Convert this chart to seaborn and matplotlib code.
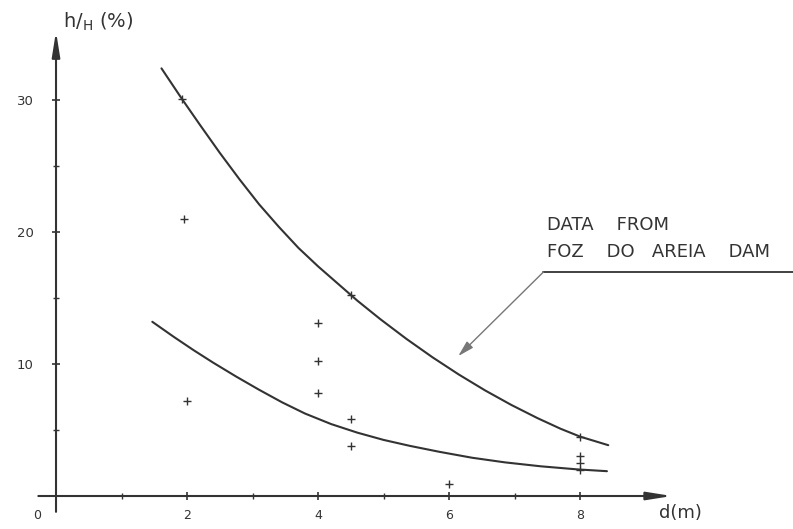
import numpy as np
import pandas as pd
import matplotlib
matplotlib.use("Agg")
import matplotlib.pyplot as plt
import seaborn as sns

# -----------------------------
# Data
# -----------------------------

# measured points (d in m, h/H in %)
point_d = [1.93, 1.95, 2.0, 4.0, 4.0, 4.0, 4.5, 4.5, 4.5, 6.0, 8.0, 8.0, 8.0, 8.0]
point_h = [30.1, 21.0, 7.2, 13.1, 10.2, 7.8, 15.2, 5.8, 3.8, 0.9, 4.5, 3.0, 2.5, 2.0]

# upper envelope curve
upper_d = [1.61, 1.92, 2.20, 2.50, 2.80, 3.10, 3.40, 3.70, 4.00, 4.30, 4.60,
           4.95, 5.35, 5.75, 6.15, 6.55, 6.95, 7.35, 7.70, 8.00, 8.43]
upper_h = [32.4, 30.1, 28.1, 26.0, 24.0, 22.1, 20.4, 18.8, 17.4, 16.1, 14.8,
           13.4, 11.9, 10.5, 9.2, 8.0, 6.9, 5.9, 5.1, 4.5, 3.85]

# lower envelope curve
lower_d = [1.47, 1.80, 2.10, 2.40, 2.75, 3.10, 3.45, 3.80, 4.20, 4.60, 5.00,
           5.40, 5.85, 6.35, 6.85, 7.40, 7.95, 8.41]
lower_h = [13.2, 12.05, 11.05, 10.1, 9.05, 8.05, 7.1, 6.25, 5.45, 4.8, 4.25,
           3.8, 3.35, 2.9, 2.55, 2.25, 2.02, 1.88]

x_major = [2, 4, 6, 8]
x_minor = [1, 3, 5, 7]
y_major = [10, 20, 30]
y_minor = [5, 15, 25]

note_lines = ["DATA    FROM", "FOZ    DO   AREIA    DAM"]

points = pd.DataFrame({"d": point_d, "h": point_h})
upper = pd.DataFrame({"d": upper_d, "h": upper_h})
lower = pd.DataFrame({"d": lower_d, "h": lower_h})

# -----------------------------
# Style
# -----------------------------

sns.set_style("white")
plt.rcParams["font.family"] = ["DejaVu Sans"]
plt.rcParams["mathtext.fontset"] = "dejavusans"

ink = "#333333"

fig = plt.figure(figsize=(7.93, 5.29), dpi=100)
ax = fig.add_axes([0, 0, 1, 1])
ax.set_xlim(-0.855, 11.25)
ax.set_ylim(-2.5, 37.58)

# -----------------------------
# Curves and points
# -----------------------------

sns.lineplot(data=upper, x="d", y="h", sort=False, color=ink, lw=1.5, ax=ax)
sns.lineplot(data=lower, x="d", y="h", sort=False, color=ink, lw=1.5, ax=ax)
sns.scatterplot(data=points, x="d", y="h", marker="+", s=40, color=ink,
                linewidth=1.0, ax=ax, zorder=5)

# -----------------------------
# Axes drawn as arrows through the origin
# -----------------------------

for side in ["top", "right"]:
    ax.spines[side].set_visible(False)
for side in ["left", "bottom"]:
    ax.spines[side].set_position(("data", 0))
    ax.spines[side].set_color("none")

arrow = dict(arrowstyle="-|>,head_length=1.0,head_width=0.16", lw=1.5,
             color=ink, mutation_scale=15, shrinkA=0, shrinkB=0)
ax.annotate("", xy=(9.4, 0), xytext=(-0.27, 0), arrowprops=arrow)
ax.annotate("", xy=(0, 35.2), xytext=(0, -1.2), arrowprops=arrow)

ax.set_xticks(x_major)
ax.set_xticks(x_minor, minor=True)
ax.set_yticks(y_major)
ax.set_yticks(y_minor, minor=True)
ax.set_xticklabels([str(v) for v in x_major])
ax.set_yticklabels([str(v) for v in y_major])

ax.tick_params(which="both", bottom=True, left=True, top=False, right=False)
ax.tick_params(which="major", direction="inout", length=6, width=1.2,
               color=ink, labelcolor=ink)
ax.tick_params(which="minor", direction="inout", length=4, width=1.0, color=ink)
ax.tick_params(axis="x", which="major", pad=6, labelsize=9)
ax.tick_params(axis="y", which="major", pad=13, labelsize=9.5)

ax.set_xlabel("")
ax.set_ylabel("")

ax.text(-0.29, -1.44, "0", ha="center", va="center", fontsize=9, color=ink)
ax.text(9.53, -1.3, "d(m)", ha="center", va="center", fontsize=13, color=ink)
ax.text(0.11, 35.9, r"h$/_{\mathsf{H}}$ (%)", ha="left", va="center",
        fontsize=14, color=ink)

# -----------------------------
# Annotation
# -----------------------------

ax.text(7.50, 20.5, note_lines[0], ha="left", va="center", fontsize=13, color=ink)
ax.text(7.50, 18.5, note_lines[1], ha="left", va="center", fontsize=13, color=ink)
ax.plot([7.44, 11.25], [16.97, 16.97], color=ink, lw=1.3)
ax.annotate("", xy=(6.14, 10.6), xytext=(7.44, 16.97),
            arrowprops=dict(arrowstyle="-|>,head_length=0.8,head_width=0.22",
                            lw=1.0, color="#777777", mutation_scale=12,
                            shrinkA=0, shrinkB=0))

fig.savefig("out.png", dpi=100, facecolor="white")
